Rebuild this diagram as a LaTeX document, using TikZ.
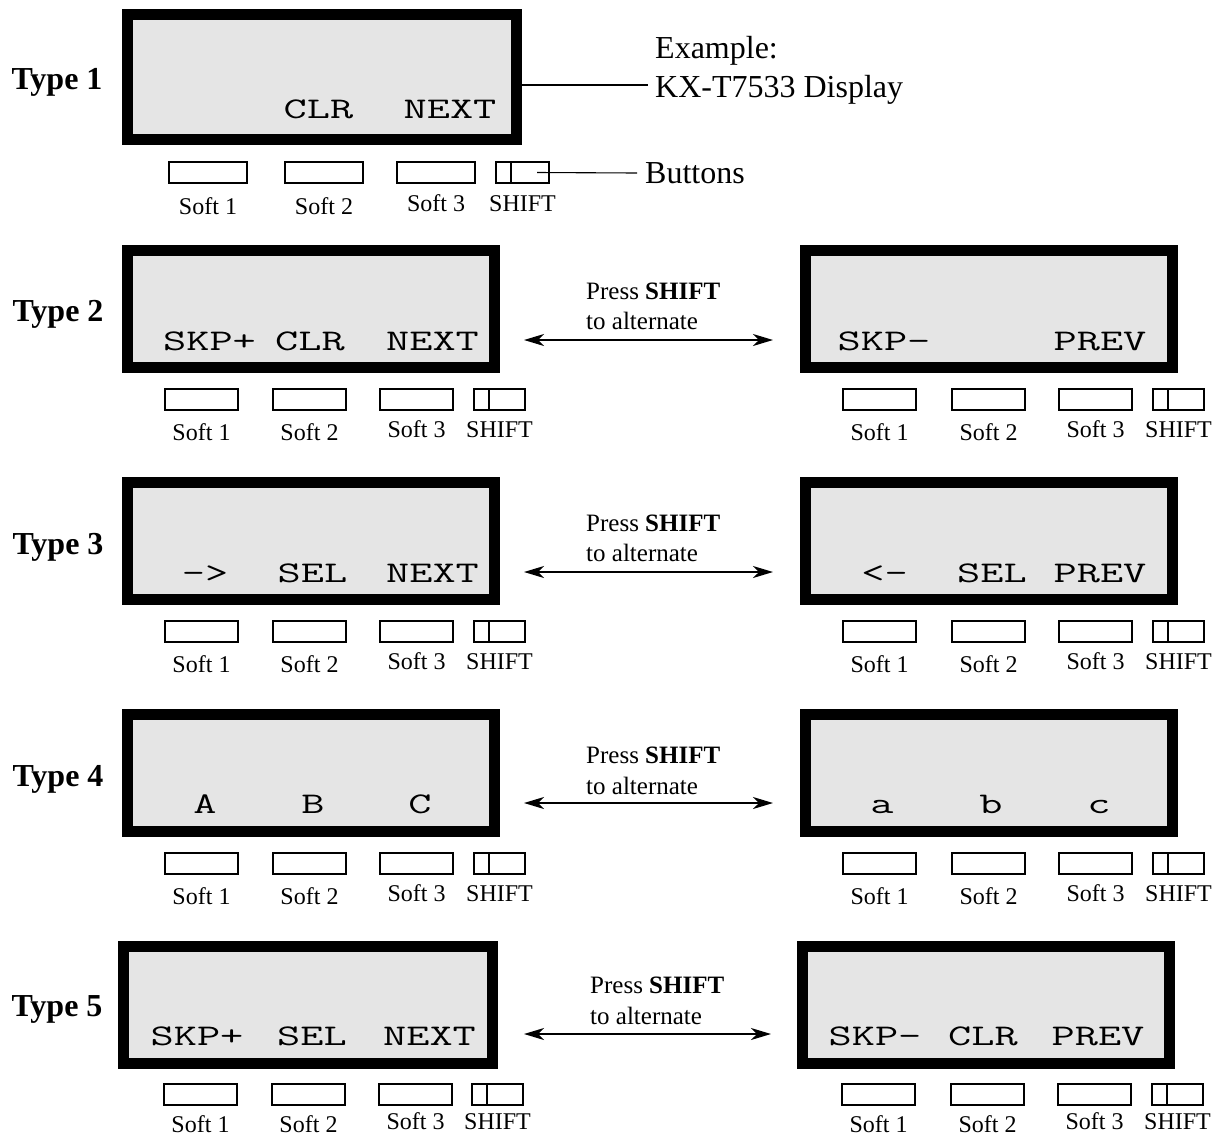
\documentclass[tikz,border=0pt]{standalone}
\usepackage{fontspec}
\setmainfont{Liberation Serif}
\usetikzlibrary{arrows.meta}
\definecolor{lcdgray}{HTML}{E5E5E5}
\newcommand\fs[1]{\fontsize{#1}{#1}\selectfont}
\newcommand\mono[1]{\scalebox{1.5}[1]{#1}}
\tikzset{
 disp/.style={draw=black, fill=lcdgray, line width=11pt, inner sep=0pt, outer sep=5.5pt},
 key/.style={draw, line width=1.1pt, fill=white, minimum height=21pt, inner sep=0pt, outer sep=0pt},
 keylbl/.style={font=\fs{24}, inner sep=0pt, anchor=base},
 lcd/.style={font=\ttfamily\fs{30}, inner sep=0pt, anchor=base},
 typelbl/.style={font=\bfseries\fs{32}, inner sep=0pt, anchor=base},
 note/.style={font=\fs{25}, inner sep=0pt, anchor=base west},
 callout/.style={font=\fs{32}, inner sep=0pt, anchor=base west},
 thin/.style={line width=1.1pt},
 alt/.style={{Stealth[length=20pt,width=12pt,inset=6pt]}-{Stealth[length=20pt,width=12pt,inset=6pt]}, line width=1.6pt},
}
% prefix, x1, x2, x3, xshift, top, width, shift width, label drop
\newcommand\keyrow[9]{%
 \node[key, minimum width=#7pt, anchor=north west] (#1a) at (#2,#6) {};
 \node[key, minimum width=#7pt, anchor=north west] (#1b) at (#3,#6) {};
 \node[key, minimum width=#7pt, anchor=north west] (#1c) at (#4,#6) {};
 \node[key, minimum width=#8pt, anchor=north west] (#1s) at (#5,#6) {};
 \draw[thin] ([xshift=15pt]#1s.north west) -- ([xshift=15pt]#1s.south west);
 \node[keylbl] (#1la) at ([yshift=-#9pt]#1a.south) {Soft 1};
 \node[keylbl] (#1lb) at ([yshift=-#9pt]#1b.south) {Soft 2};
 \node[keylbl] (#1lc) at ([yshift=-#9pt+3pt]#1c.south) {Soft 3};
 \node[keylbl] (#1ls) at ([yshift=-#9pt+3pt]#1s.south) {SHIFT};
}
\begin{document}
\begin{tikzpicture}[x=1pt,y=-1pt]
\useasboundingbox (0,0) rectangle (1221,1136);

% ---------- Type 1 ----------
\node[typelbl] (ty1) at (57,89) {Type 1};
\node[disp, minimum width=389pt, minimum height=125pt] (t1) at (322,77) {};
\node[lcd] (t1b) at (318.5,118) {\mono{CLR}};
\node[lcd] (t1c) at (450,118) {\mono{NEXT}};
\keyrow{k1}{169}{285}{397}{496}{162}{78}{53}{31}
\node[callout] (ex) at (655,58) {Example:};
\node[callout] (kx) at (655,97) {KX-T7533 Display};
\node[callout] (btn) at (645,183) {Buttons};
\draw[thin] ([yshift=-8pt]t1.east) -- ([xshift=-7pt,yshift=12pt]kx.base west);
\draw[thin] ([xshift=14.5pt]k1s.center) -- ([xshift=-8pt,yshift=10pt]btn.base west);

% ---------- Type 2 ----------
\node[typelbl] (ty2) at (58,321) {Type 2};
\node[disp, minimum width=367pt, minimum height=117pt] (t2L) at (311,309) {};
\node[disp, minimum width=367pt, minimum height=117pt] (t2R) at (989,309) {};
\node[lcd] (t2La) at (209.5,350) {\mono{SKP+}};
\node[lcd] (t2Lb) at (310,350) {\mono{CLR}};
\node[lcd] (t2Lc) at (432.5,350) {\mono{NEXT}};
\node[lcd] (t2Ra) at (884,350) {\mono{SKP-}};
\node[lcd] (t2Rc) at (1100,350) {\mono{PREV}};
\keyrow{kL2}{165}{273}{380}{474}{389}{73}{51}{30}
\keyrow{kR2}{843}{952}{1059}{1153}{389}{73}{51}{30}
\node[note] (p2a) at (586,299) {Press \textbf{SHIFT}};
\node[note] (p2b) at (586,329) {to alternate};
\path (t2L.east) ++(24,31) coordinate (a2l);
\path (t2R.west) ++(-27,31) coordinate (a2r);
\draw[alt] (a2l) -- (a2r);

% ---------- Type 3 ----------
\node[typelbl] (ty3) at (58,554) {Type 3};
\node[disp, minimum width=367pt, minimum height=117pt] (t3L) at (311,541) {};
\node[disp, minimum width=367pt, minimum height=117pt] (t3R) at (989,541) {};
\node[lcd] (t3La) at (205,582) {\mono{—>}};
\node[lcd] (t3Lb) at (312.5,582) {\mono{SEL}};
\node[lcd] (t3Lc) at (432.5,582) {\mono{NEXT}};
\node[lcd] (t3Ra) at (884.5,582) {\mono{<—}};
\node[lcd] (t3Rb) at (992,582) {\mono{SEL}};
\node[lcd] (t3Rc) at (1100,582) {\mono{PREV}};
\keyrow{kL3}{165}{273}{380}{474}{621}{73}{51}{30}
\keyrow{kR3}{843}{952}{1059}{1153}{621}{73}{51}{30}
\node[note] (p3a) at (586,531) {Press \textbf{SHIFT}};
\node[note] (p3b) at (586,561) {to alternate};
\path (t3L.east) ++(24,31) coordinate (a3l);
\path (t3R.west) ++(-27,31) coordinate (a3r);
\draw[alt] (a3l) -- (a3r);

% ---------- Type 4 ----------
\node[typelbl] (ty4) at (58,786) {Type 4};
\node[disp, minimum width=367pt, minimum height=117pt] (t4L) at (311,773) {};
\node[disp, minimum width=367pt, minimum height=117pt] (t4R) at (989,773) {};
\node[lcd] (t4La) at (205,813) {\mono{A}};
\node[lcd] (t4Lb) at (313,813) {\mono{B}};
\node[lcd] (t4Lc) at (420,813) {\mono{C}};
\node[lcd] (t4Ra) at (882,813) {\mono{a}};
\node[lcd] (t4Rb) at (991,813) {\mono{b}};
\node[lcd] (t4Rc) at (1099,813) {\mono{c}};
\keyrow{kL4}{165}{273}{380}{474}{853}{73}{51}{30}
\keyrow{kR4}{843}{952}{1059}{1153}{853}{73}{51}{30}
\node[note] (p4a) at (586,763) {Press \textbf{SHIFT}};
\node[note] (p4b) at (586,794) {to alternate};
\path (t4L.east) ++(24,30) coordinate (a4l);
\path (t4R.west) ++(-27,30) coordinate (a4r);
\draw[alt] (a4l) -- (a4r);

% ---------- Type 5 ----------
\node[typelbl] (ty5) at (57,1016) {Type 5};
\node[disp, minimum width=369pt, minimum height=117pt] (t5L) at (308,1005) {};
\node[disp, minimum width=367pt, minimum height=117pt] (t5R) at (986,1005) {};
\node[lcd] (t5La) at (197,1045) {\mono{SKP+}};
\node[lcd] (t5Lb) at (312,1045) {\mono{SEL}};
\node[lcd] (t5Lc) at (429.5,1045) {\mono{NEXT}};
\node[lcd] (t5Ra) at (875,1045) {\mono{SKP-}};
\node[lcd] (t5Rb) at (983,1045) {\mono{CLR}};
\node[lcd] (t5Rc) at (1098,1045) {\mono{PREV}};
\keyrow{kL5}{164}{272}{379}{472}{1084}{73}{51}{27}
\keyrow{kR5}{842}{951}{1058}{1152}{1084}{73}{51}{27}
\node[note] (p5a) at (590,993) {Press \textbf{SHIFT}};
\node[note] (p5b) at (590,1024) {to alternate};
\path (t5L.east) ++(26,29) coordinate (a5l);
\path (t5R.west) ++(-26,29) coordinate (a5r);
\draw[alt] (a5l) -- (a5r);
\end{tikzpicture}
\end{document}
